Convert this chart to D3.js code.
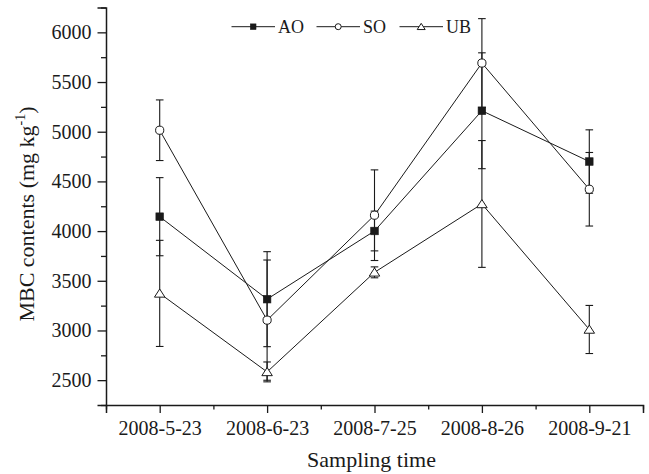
<!DOCTYPE html>
<html>
<head>
<meta charset="utf-8">
<script src="https://cdn.jsdelivr.net/npm/d3@7"></script>
<style>
  body { margin: 0; background: #fff; }
  svg { display: block; }
  text { font-family: "Liberation Serif", "Times New Roman", serif; fill: #1a1a1a; }
</style>
</head>
<body>
<svg id="chart" width="649" height="474"></svg>
<script>
const dates = ["2008-5-23", "2008-6-23", "2008-7-25", "2008-8-26", "2008-9-21"];
const seriesNames = ["AO", "SO", "UB"];
const aoValues = [4145, 3315, 4001, 5211, 4700];
const aoErrors = [393, 478, 200, 583, 319];
const soValues = [5015, 3104, 4160, 5691, 4421];
const soErrors = [305, 605, 456, 447, 370];
const ubValues = [3373, 2583, 3585, 4273, 3010];
const ubErrors = [534, 100, 55, 638, 242];
const yTicks = [2500, 3000, 3500, 4000, 4500, 5000, 5500, 6000];
const yMinorTicks = [2250, 2750, 3250, 3750, 4250, 4750, 5250, 5750, 6250];

const series = [
  { name: seriesNames[0], values: aoValues, errors: aoErrors, marker: "square" },
  { name: seriesNames[1], values: soValues, errors: soErrors, marker: "circle" },
  { name: seriesNames[2], values: ubValues, errors: ubErrors, marker: "triangle" }
];

const svg = d3.select("#chart");
const ink = "#1a1a1a";

const x = d3.scaleLinear().domain([-0.5, dates.length - 0.5]).range([106, 643]);
const y = d3.scaleLinear().domain([2250, 6250]).range([405, 7.5]);

// Y axis
const yAxis = d3.axisLeft(y).tickValues(yTicks).tickSize(8.5).tickPadding(6).tickFormat(d3.format("d"));
const gy = svg.append("g").attr("transform", `translate(${x.range()[0]},0)`).call(yAxis);
gy.select(".domain").attr("stroke", ink).attr("stroke-width", 1.5);
gy.selectAll(".tick line").attr("stroke", ink).attr("stroke-width", 1.3);
gy.selectAll(".tick text").attr("font-size", 20).attr("fill", ink)
  .style("font-family", '"Liberation Serif", serif');
const gyMinor = svg.append("g").attr("transform", `translate(${x.range()[0]},0)`)
  .call(d3.axisLeft(y).tickValues(yMinorTicks).tickSize(5).tickFormat(""));
gyMinor.select(".domain").remove();
gyMinor.selectAll(".tick line").attr("stroke", ink).attr("stroke-width", 1.3);

// X axis
const xAxis = d3.axisBottom(x).tickValues(d3.range(dates.length)).tickSize(8).tickPadding(8)
  .tickFormat(i => dates[i]);
const gx = svg.append("g").attr("transform", `translate(0,${y.range()[0]})`).call(xAxis);
gx.select(".domain").attr("stroke", ink).attr("stroke-width", 1.5);
gx.selectAll(".tick line").attr("stroke", ink).attr("stroke-width", 1.3);
gx.selectAll(".tick text").attr("font-size", 20).attr("fill", ink)
  .style("font-family", '"Liberation Serif", serif');
const xMinor = d3.range(dates.length + 1).map(i => i - 0.5);
const gxMinor = svg.append("g").attr("transform", `translate(0,${y.range()[0]})`)
  .call(d3.axisBottom(x).tickValues(xMinor).tickSize(4.5).tickFormat(""));
gxMinor.select(".domain").remove();
gxMinor.selectAll(".tick line").attr("stroke", ink).attr("stroke-width", 1.3);

// Axis titles
svg.append("text").attr("x", (x.range()[0] + x.range()[1]) / 2 - 3).attr("y", 467)
  .attr("text-anchor", "middle").attr("font-size", 22).text("Sampling time");

const yt = svg.append("text")
  .attr("transform", `translate(33.5,214) rotate(-90)`)
  .attr("text-anchor", "middle").attr("font-size", 22);
yt.append("tspan").text("MBC contents (mg kg");
yt.append("tspan").attr("font-size", 14).attr("dy", -9).text("-1");
yt.append("tspan").attr("dy", 9).text(")");

// Marker drawing
function drawMarker(g, type, cx, cy, s) {
  if (type === "square") {
    g.append("rect").attr("x", cx - s).attr("y", cy - s).attr("width", 2 * s).attr("height", 2 * s)
      .attr("fill", ink).attr("stroke", ink).attr("stroke-width", 0.6);
  } else if (type === "circle") {
    g.append("circle").attr("cx", cx).attr("cy", cy).attr("r", s)
      .attr("fill", "#fff").attr("stroke", ink).attr("stroke-width", 1);
  } else {
    const h = s * 1.05;
    const w = s * 1.25;
    g.append("path")
      .attr("d", `M${cx},${cy - h} L${cx + w},${cy + h * 0.85} L${cx - w},${cy + h * 0.85} Z`)
      .attr("fill", "#fff").attr("stroke", ink).attr("stroke-width", 1);
  }
}

const line = d3.line().x((d, i) => x(i)).y(d => y(d));
const plot = svg.append("g");

// lines
series.forEach(s => {
  plot.append("path").datum(s.values).attr("d", line)
    .attr("fill", "none").attr("stroke", ink).attr("stroke-width", 1);
});

// error bars
series.forEach(s => {
  s.values.forEach((v, i) => {
    const cx = x(i), top = y(v + s.errors[i]), bot = y(v - s.errors[i]);
    plot.append("line").attr("x1", cx).attr("x2", cx).attr("y1", top).attr("y2", bot)
      .attr("stroke", ink).attr("stroke-width", 1.1);
    [top, bot].forEach(yy => {
      plot.append("line").attr("x1", cx - 3.8).attr("x2", cx + 3.8).attr("y1", yy).attr("y2", yy)
        .attr("stroke", ink).attr("stroke-width", 1.1);
    });
  });
});

// markers
series.forEach(s => {
  const sz = s.marker === "square" ? 3.8 : s.marker === "circle" ? 4.1 : 4.2;
  s.values.forEach((v, i) => drawMarker(plot, s.marker, x(i), y(v), sz));
});

// legend
const legendItems = [
  { x0: 231.5, label: seriesNames[0], marker: "square" },
  { x0: 316.5, label: seriesNames[1], marker: "circle" },
  { x0: 399.5, label: seriesNames[2], marker: "triangle" }
];
const ly = 26.7;
legendItems.forEach(it => {
  const g = svg.append("g");
  g.append("line").attr("x1", it.x0).attr("x2", it.x0 + 43.5).attr("y1", ly).attr("y2", ly)
    .attr("stroke", ink).attr("stroke-width", 1);
  const s = it.marker === "square" ? 2.8 : it.marker === "circle" ? 3 : 3.2;
  drawMarker(g, it.marker, it.x0 + 21.7, ly, s);
  g.append("text").attr("x", it.x0 + 46.5).attr("y", 33.3).attr("font-size", 18).text(it.label);
});
</script>
</body>
</html>
